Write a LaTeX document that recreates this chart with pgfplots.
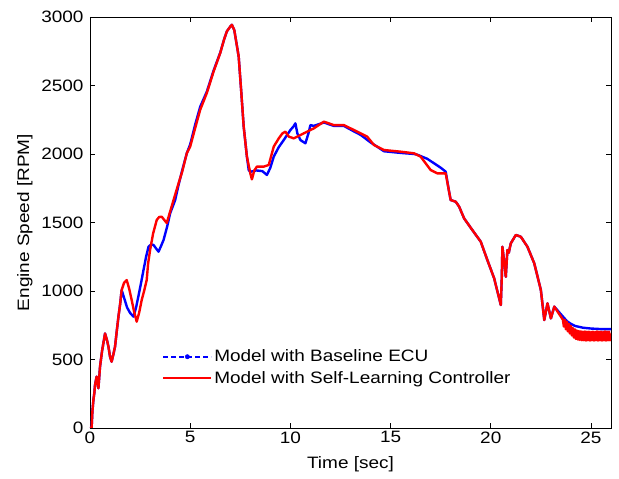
\documentclass[border=0pt]{standalone}
\usepackage{pgfplots}
\pgfplotsset{compat=1.18}
\usepackage{fontspec}
\setmainfont{Liberation Sans}[FakeStretch=1.15]
\newcommand{\chartfont}{\fontsize{16.5bp}{19bp}\selectfont}
\begin{document}
\begin{tikzpicture}[font=\chartfont]
\begin{axis}[
  scale only axis,
  width=521bp, height=411bp,
  xmin=0, xmax=26, ymin=0, ymax=3000,
  xtick={0,5,10,15,20,25},
  ytick={0,500,1000,1500,2000,2500,3000},
  tick align=inside,
  major tick length=5bp,
  tick style={black, line width=0.6bp},
  axis line style={black, line width=0.8bp},
  scaled ticks=false,
  /pgf/number format/1000 sep={},
  /pgf/number format/assume math mode=true,
  ticklabel style={font=\chartfont},
  yticklabel style={xshift=-3bp},
  label style={font=\chartfont},
  xlabel={Time [sec]},
  ylabel={Engine Speed [RPM]},
  xlabel style={yshift=-7bp},
  ylabel style={yshift=2bp},
  legend style={at={(0.133,0.2)}, anchor=north west, draw=none, fill=none,
    font=\chartfont, row sep=4bp},
  legend cell align=left,
]
\addplot[blue, line width=2.4bp, line join=round, forget plot] coordinates {
(0,0)(0.08,0)(0.12,120)(0.17,204)(0.22,260)(0.25,314)(0.33,375)(0.42,290)(0.5,447)
(0.6,560)(0.75,690)(0.85,640)(0.92,594)(1.0,520)(1.08,484)(1.17,540)(1.25,594)
(1.33,700)(1.42,813)(1.5,900)(1.58,1007)(1.67,965)(1.85,880)(2.0,840)(2.17,813)
(2.3,880)(2.42,965)(2.55,1060)(2.67,1153)(2.8,1250)(2.92,1323)(3.05,1340)(3.17,1336)
(3.3,1310)(3.42,1287)(3.55,1330)(3.67,1372)(3.85,1470)(4.0,1567)(4.25,1664)
(4.42,1775)(4.6,1880)(4.83,2005)(5.0,2070)(5.25,2215)(5.5,2345)(5.83,2455)
(6.17,2610)(6.5,2740)(6.7,2840)(6.83,2895)(7.0,2930)(7.08,2943)(7.2,2905)
(7.42,2711)(7.55,2450)(7.67,2200)(7.83,1981)(7.92,1883)(8.0,1870)(8.3,1880)
(8.6,1875)(8.83,1847)(9.0,1900)(9.17,1981)(9.42,2050)(9.67,2102)(10.0,2175)
(10.15,2200)(10.25,2224)(10.35,2150)(10.5,2102)(10.75,2078)(10.9,2150)(11.0,2211)
(11.17,2205)(11.67,2230)(12.17,2205)(12.67,2205)(13.17,2165)(13.5,2140)(14.0,2085)
(14.67,2020)(15.5,2008)(16.17,2000)(16.33,1995)(16.83,1965)(17.17,1932)(17.5,1900)
(17.75,1871)(17.92,1725)(18.0,1664)(18.25,1652)(18.42,1616)(18.67,1530)(19.08,1445)
(19.5,1360)(19.83,1226)(20.17,1092)(20.5,898)(20.55,1100)(20.58,1323)(20.68,1200)
(20.75,1104)(20.83,1299)(20.9,1280)(21.0,1348)(21.25,1409)(21.5,1396)(21.83,1323)
(22.17,1202)(22.5,1007)(22.67,788)(22.83,910)(23.0,800)(23.17,886)(23.5,830)
(23.8,780)(24.0,760)(24.2,745)(24.6,732)(25.0,726)(25.5,722)(26,722)
};
\addplot[red, line width=2.4bp, line join=round, forget plot] coordinates {
(0,0)(0.08,0)(0.12,120)(0.17,204)(0.22,260)(0.25,314)(0.33,375)(0.42,290)(0.5,447)
(0.6,560)(0.75,690)(0.85,640)(0.92,594)(1.0,520)(1.08,484)(1.17,540)(1.25,594)
(1.33,700)(1.42,813)(1.5,900)(1.58,1007)(1.7,1060)(1.83,1080)(1.95,1020)(2.08,934)
(2.2,850)(2.33,776)(2.45,840)(2.58,934)(2.7,1000)(2.83,1080)(2.9,1200)(3.0,1300)
(3.15,1420)(3.33,1518)(3.45,1540)(3.58,1542)(3.7,1520)(3.83,1496)(4.0,1580)
(4.17,1664)(4.42,1786)(4.6,1870)(4.83,2005)(5.0,2054)(5.25,2190)(5.5,2323)
(5.83,2445)(6.17,2603)(6.5,2737)(6.7,2840)(6.83,2895)(7.0,2930)(7.08,2943)
(7.2,2905)(7.42,2711)(7.55,2450)(7.67,2200)(7.83,1981)(8.0,1859)(8.08,1815)
(8.2,1880)(8.33,1908)(8.67,1908)(8.92,1920)(9.17,2054)(9.42,2114)(9.6,2150)
(9.75,2163)(9.92,2127)(10.17,2114)(10.67,2151)(11.17,2187)(11.67,2236)(12.17,2211)
(12.67,2211)(13.17,2175)(13.83,2127)(14.17,2066)(14.67,2029)(15.5,2017)(16.17,2005)
(16.5,1981)(17.0,1883)(17.33,1859)(17.75,1859)(17.92,1725)(18.0,1664)(18.25,1652)
(18.42,1616)(18.67,1530)(19.08,1445)(19.5,1360)(19.83,1226)(20.17,1092)(20.5,898)
(20.55,1100)(20.58,1323)(20.68,1200)(20.75,1104)(20.83,1299)(20.9,1280)(21.0,1348)
(21.25,1409)(21.5,1396)(21.83,1323)(22.17,1202)(22.5,1007)(22.67,788)(22.83,910)
(23.0,800)(23.17,886)(23.5,813)(23.6,790)(23.65,740)(23.7,790)(23.75,720)(23.8,775)
(23.85,705)(23.9,760)(23.95,690)(24.0,745)(24.05,675)(24.1,730)(24.15,660)(24.2,720)
(24.25,650)(24.3,712)(24.35,645)(24.4,708)(24.45,642)(24.5,706)(24.55,640)(24.6,704)
(24.65,640)(24.7,705)(24.75,638)(24.8,703)(24.85,640)(24.9,704)(24.95,638)(25.0,702)
(25.05,640)(25.1,704)(25.15,638)(25.2,702)(25.25,640)(25.3,705)(25.35,638)(25.4,703)
(25.45,640)(25.5,704)(25.55,638)(25.6,702)(25.65,640)(25.7,705)(25.75,638)(25.8,703)
(25.85,640)(25.9,704)(25.95,640)(26.0,690)
};
\addlegendimage{legend image code/.code={
  \draw[blue, line width=1.6bp, dash pattern=on 5bp off 3bp] (0bp,0bp) -- (48bp,0bp);
  \fill[blue] (24bp,0bp) circle (2.2bp);}}
\addlegendentry{Model with Baseline ECU}
\addlegendimage{legend image code/.code={
  \draw[red, line width=1.8bp] (0bp,0bp) -- (48bp,0bp);}}
\addlegendentry{Model with Self-Learning Controller}
\end{axis}
\pgfresetboundingbox
\path[use as bounding box] ([xshift=-90bp,yshift=-51bp]current axis.south west) rectangle ([xshift=8bp,yshift=17bp]current axis.north east);
\end{tikzpicture}
\end{document}
